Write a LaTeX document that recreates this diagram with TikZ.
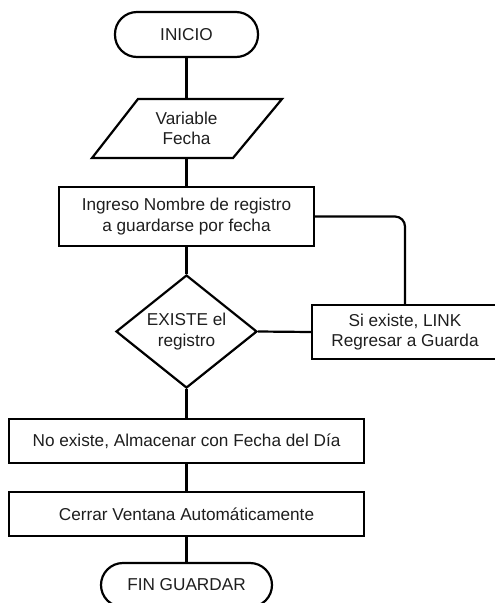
\documentclass[tikz,border=0pt]{standalone}
\usepackage{fontspec}
\setmainfont{Liberation Sans}
\usetikzlibrary{shapes.geometric}
\definecolor{ink}{HTML}{1E1E1E}
\begin{document}
\begin{tikzpicture}[x=1pt,y=-1pt,
  line width=2.2pt,
  every node/.style={font=\fontsize{17.2}{20.5}\selectfont, text=ink, align=center, inner sep=0pt},
  term/.style={draw, rectangle, rounded corners=22pt, minimum height=45pt},
  procbox/.style={draw, rectangle},
  decis/.style={draw, diamond, aspect=1.25},
  link/.style={draw, line width=2.2pt}
]
\useasboundingbox (0,0) rectangle (495,603);
\clip (0,0) rectangle (495,603);
\node[term, minimum width=143pt] (inicio) at (186.5,34.5) {INICIO};
% parallelogram (data)
\coordinate (pTL) at (138,99);
\coordinate (pTR) at (282,99);
\coordinate (pBR) at (233,158);
\coordinate (pBL) at (92,158);
\draw[line join=miter] (pTL) -- (pTR) -- (pBR) -- (pBL) -- cycle;
\node (var) at (186.5,128.5) {Variable\\Fecha};
\coordinate (varT) at (186.5,99);
\coordinate (varB) at (186.5,158);
\node[procbox, minimum width=255pt, minimum height=59pt] (ingreso) at (186.5,216.5) {Ingreso Nombre de registro\\a guardarse por fecha};
\node[decis, minimum width=141pt, minimum height=113pt] (existe) at (186.5,331.5) {EXISTE el\\registro};
\node[procbox, minimum width=186pt, minimum height=54pt] (siexiste) at (405,332) {Si existe, LINK\\Regresar a Guarda};
\node[procbox, minimum width=355pt, minimum height=44pt] (noexiste) at (186.5,441) {No existe, Almacenar con Fecha del Día};
\node[procbox, minimum width=355pt, minimum height=44pt] (cerrar) at (186.5,514) {Cerrar Ventana Automáticamente};
\node[term, minimum width=171pt, minimum height=44pt] (fin) at (186.5,585) {FIN GUARDAR};
% connectors
\draw[link] (inicio.south) -- (varT);
\draw[link] (varB) -- (ingreso.north);
\draw[link] (ingreso.south) -- (existe.north);
\draw[link] (existe.south) -- (noexiste.north);
\draw[link] (noexiste.south) -- (cerrar.north);
\draw[link] (cerrar.south) -- (fin.north);
\draw[link] (existe.east) -- (siexiste.west);
\draw[link, rounded corners=10pt] (ingreso.east) -| (siexiste.north);
\end{tikzpicture}
\end{document}
